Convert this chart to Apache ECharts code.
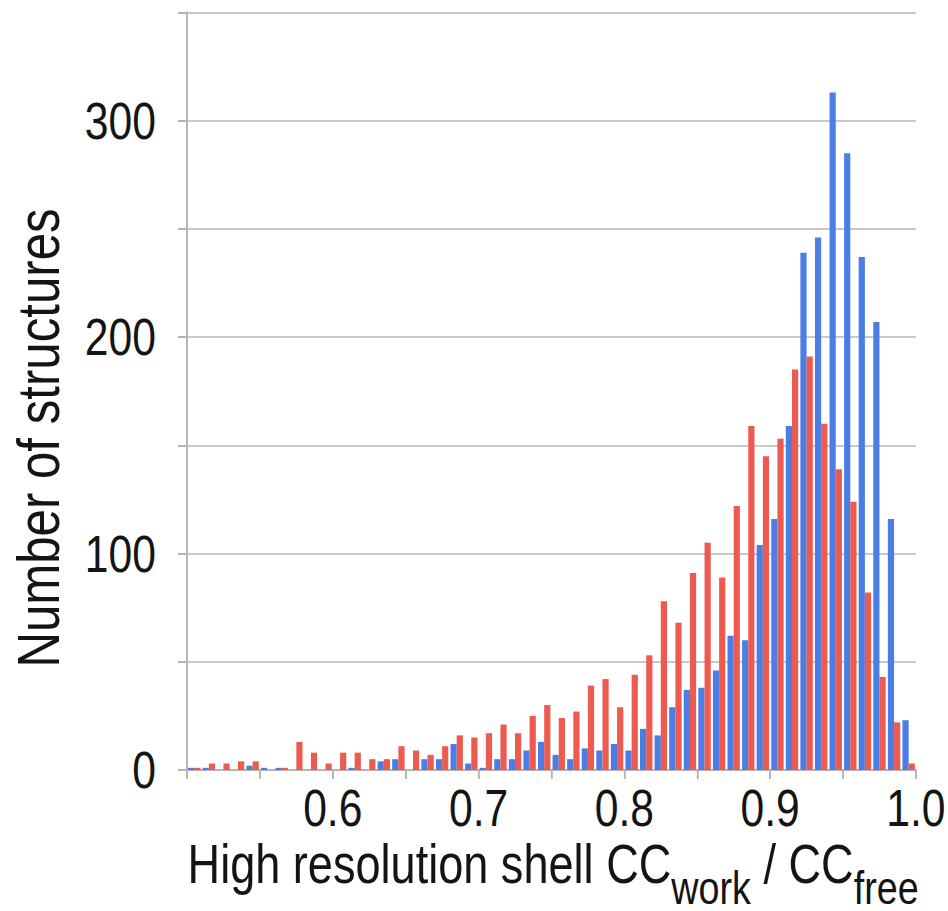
<!DOCTYPE html>
<html>
<head>
<meta charset="utf-8">
<script src="https://cdn.jsdelivr.net/npm/echarts@6/dist/echarts.min.js"></script>
<style>
  html, body { margin: 0; padding: 0; background: #fff; }
  #wrap { width: 948px; height: 911px; overflow: hidden; }
  /* the source uses a narrow sans face; squeeze the whole chart horizontally to get it */
  #histChart { width: 1156px; height: 911px; transform: scaleX(0.82); transform-origin: 0 0; }
</style>
</head>
<body>
<div id="wrap"><div id="histChart"></div></div>
<script>
// bin centres (0.01 wide bins from 0.50 to 1.00)
var binCenters = [0.505, 0.515, 0.525, 0.535, 0.545, 0.555, 0.565, 0.575, 0.585, 0.595,
                  0.605, 0.615, 0.625, 0.635, 0.645, 0.655, 0.665, 0.675, 0.685, 0.695,
                  0.705, 0.715, 0.725, 0.735, 0.745, 0.755, 0.765, 0.775, 0.785, 0.795,
                  0.805, 0.815, 0.825, 0.835, 0.845, 0.855, 0.865, 0.875, 0.885, 0.895,
                  0.905, 0.915, 0.925, 0.935, 0.945, 0.955, 0.965, 0.975, 0.985, 0.995];

var blueCounts = [1, 1, 0, 0, 2, 1, 1, 0, 0, 0,
                  0, 1, 0, 4, 5, 0, 5, 5, 12, 3,
                  1, 5, 5, 9, 13, 7, 5, 10, 9, 12,
                  9, 19, 16, 29, 37, 38, 46, 62, 60, 104,
                  116, 159, 239, 246, 313, 285, 237, 207, 116, 23];

var redCounts = [1, 3, 3, 4, 4, 0, 1, 13, 8, 3,
                 8, 8, 5, 5, 11, 9, 7, 11, 16, 15,
                 17, 21, 17, 25, 30, 24, 27, 39, 42, 29,
                 44, 53, 78, 68, 91, 105, 89, 122, 159, 145,
                 153, 185, 191, 160, 139, 124, 82, 43, 22, 3];

var yTickLabels = [0, 100, 200, 300];
var xTickLabels = ['0.6', '0.7', '0.8', '0.9', '1.0'];

var SQUEEZE = 0.82;
var FONT = "'Liberation Sans', Arial, sans-serif";
var TEXT_COLOR = '#141414';

function pairUp(xs, ys)
{
	var out = [];
	for (var i = 0; i < xs.length; i++)
	{
		out.push([xs[i], ys[i]]);
	}
	return out;
}

var histChartOption = {
	animation: false,
	backgroundColor: '#ffffff',
	grid: {
		left: 187 / SQUEEZE,
		right: 32 / SQUEEZE,
		top: 12.5,
		bottom: 141,
		containLabel: false,
		outerBoundsMode: 'none'
	},
	xAxis: {
		type: 'value',
		min: 0.5,
		max: 1.0,
		interval: 0.05,
		name: '{a|High resolution shell CC}{s|work}{a| / CC}{s|free}',
		nameLocation: 'middle',
		nameGap: 66,
		nameMoveOverlap: false,
		nameTextStyle: {
			padding: [0, 0, 0, 4],
			rich: {
				a: { fontFamily: FONT, fontSize: 55, lineHeight: 58, color: TEXT_COLOR, verticalAlign: 'top' },
				s: { fontFamily: FONT, fontSize: 46, lineHeight: 40, color: TEXT_COLOR, verticalAlign: 'top', padding: [29, 0, 0, 0] }
			}
		},
		axisLine: { show: true, lineStyle: { color: '#b5b5b5', width: 2 } },
		axisTick: { show: true, length: 9, lineStyle: { color: '#b5b5b5', width: 2.4 } },
		splitLine: { show: false },
		axisLabel: {
			margin: 18,
			fontFamily: FONT,
			fontSize: 52,
			lineHeight: 40,
			color: TEXT_COLOR,
			formatter: function (v) {
				var s = v.toFixed(1);
				if (Math.abs(v * 10 - Math.round(v * 10)) < 1e-6 && xTickLabels.indexOf(s) >= 0)
					return s;
				return '';
			}
		}
	},
	yAxis: {
		type: 'value',
		min: 0,
		max: 350,
		interval: 50,
		axisLine: { show: true, lineStyle: { color: '#b5b5b5', width: 2.4 } },
		axisTick: { show: true, length: 9 / SQUEEZE, lineStyle: { color: '#b5b5b5', width: 2 } },
		splitLine: { show: true, lineStyle: { color: '#c9c9c9', width: 2 } },
		axisLabel: {
			margin: 31 / SQUEEZE,
			fontFamily: FONT,
			fontSize: 52,
			color: TEXT_COLOR,
			formatter: function (v) {
				return yTickLabels.indexOf(v) >= 0 ? String(v) : '';
			}
		}
	},
	// y title drawn as a graphic so it can be rotated and still keep its thickness
	graphic: [
		{
			type: 'text',
			x: 38 / SQUEEZE,
			y: 438,
			rotation: Math.PI / 2,
			scaleX: 0.82,
			scaleY: 1 / SQUEEZE,
			style: {
				text: 'Number of structures',
				fontFamily: FONT,
				fontSize: 60,
				fill: TEXT_COLOR,
				align: 'center',
				verticalAlign: 'middle',
				textAlign: 'center',
				textVerticalAlign: 'middle'
			}
		}
	],
	series: [
		{
			name: 'blue',
			type: 'bar',
			data: pairUp(binCenters, blueCounts),
			barWidth: 6.2 / SQUEEZE,
			barGap: '0%',
			itemStyle: { color: '#4a7ee6' }
		},
		{
			name: 'red',
			type: 'bar',
			data: pairUp(binCenters, redCounts),
			barWidth: 6.2 / SQUEEZE,
			barGap: '0%',
			itemStyle: { color: '#ed5a50' }
		}
	]
};

var histChart = echarts.init(document.getElementById('histChart'), null, { renderer: 'svg' });
histChart.setOption(histChartOption);
</script>
</body>
</html>
